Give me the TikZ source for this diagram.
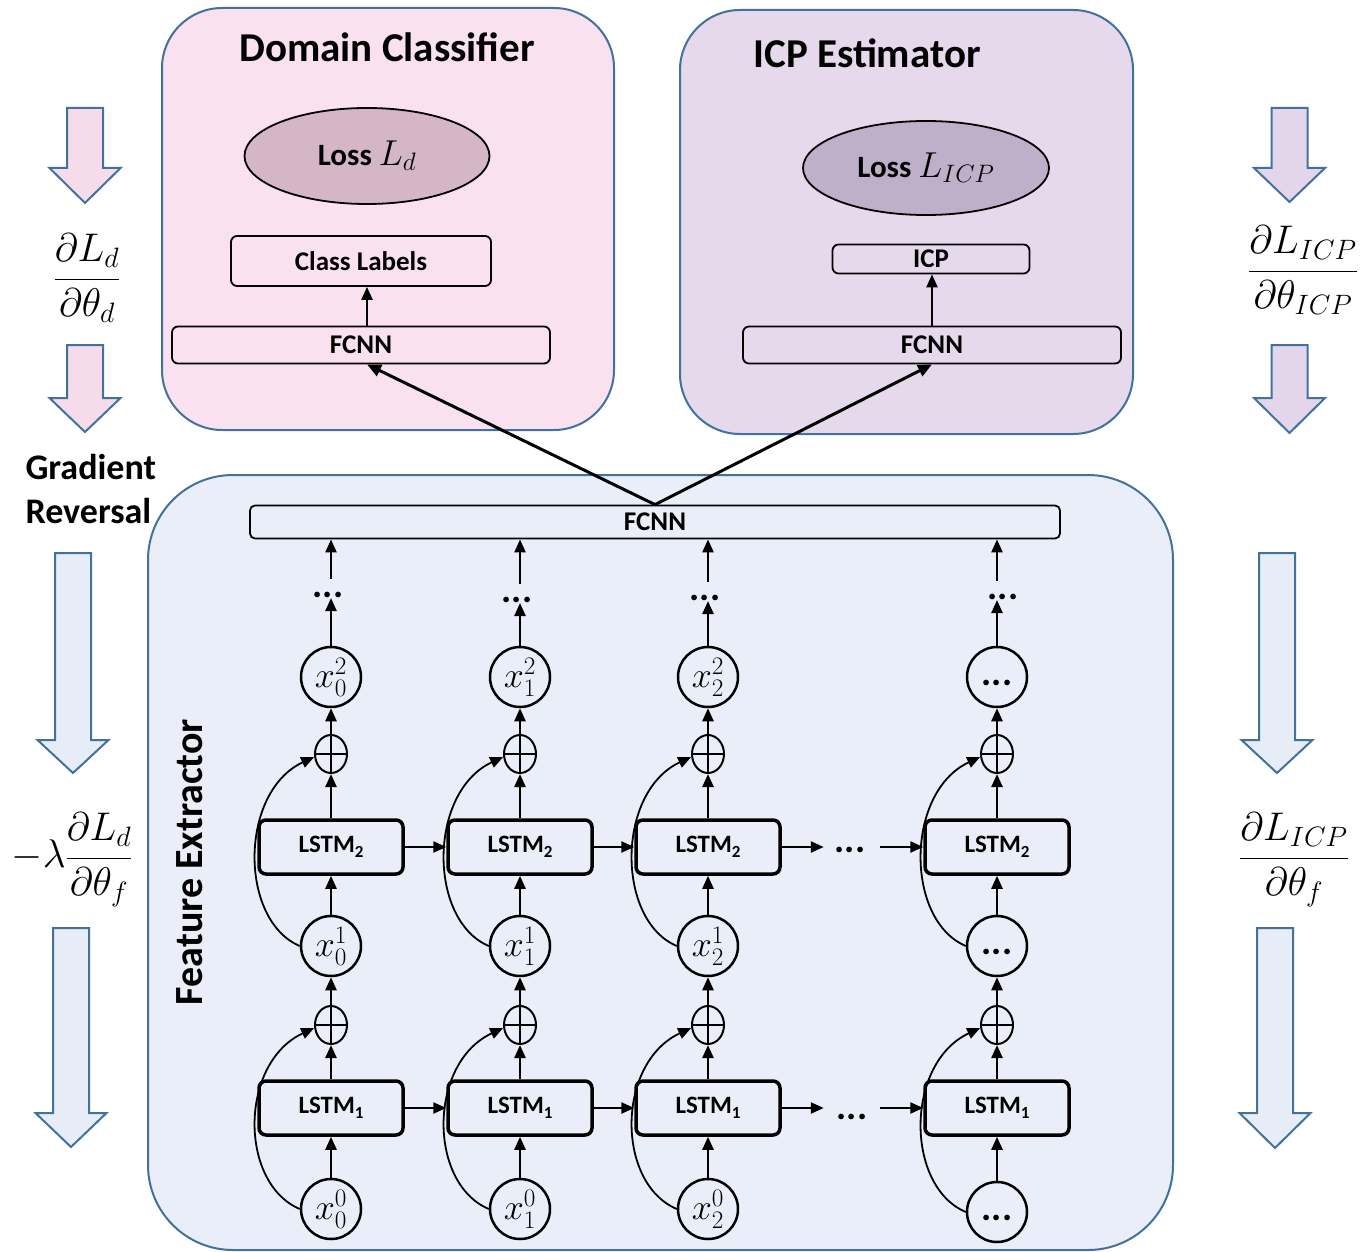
\documentclass[tikz,border=0pt]{standalone}
\usepackage{fix-cm}
\usepackage{fontspec}
\setmainfont{Carlito}
\usetikzlibrary{arrows.meta,shapes.geometric,calc}
\definecolor{bordc}{HTML}{41719C}
\definecolor{pinkc}{HTML}{F9E1EF}
\definecolor{lavc}{HTML}{E5D9EB}
\definecolor{bluec}{HTML}{E9EEF8}
\definecolor{ellpink}{HTML}{D4B6C6}
\definecolor{elllav}{HTML}{BEB0C8}
\definecolor{arrpink}{HTML}{F6DCEA}
\definecolor{arrlav}{HTML}{E3D6EA}
\definecolor{arrblue}{HTML}{E7EDF7}
\newcommand\blk[5]{%
  \draw[barrow, fill=#5] ({#1-18},#2) -- ({#1+18},#2) -- ({#1+18},#3) -- ({#1+35.5},#3) -- (#1,#4) -- ({#1-35.5},#3) -- ({#1-18},#3) -- cycle;}
\newcommand\lsub[1]{\raisebox{-5pt}{\fontsize{17}{20}\selectfont #1}}
\newcommand\circdots{\raisebox{-18pt}{\bfseries\fontsize{38}{40}\selectfont ...}}
\tikzset{
  grp/.style={draw=bordc, line width=2pt, inner sep=0pt},
  lstm/.style={draw, line width=3.5pt, rounded corners=7pt, minimum width=144pt, minimum height=54pt, inner sep=0pt, font=\fontsize{25}{30}\selectfont\bfseries},
  xc/.style={circle, draw, line width=2.5pt, minimum size=60pt, inner sep=0pt, font=\fontsize{36}{40}\selectfont},
  opl/.style={ellipse, draw, line width=2pt, minimum width=32pt, minimum height=38pt, inner sep=0pt,
    path picture={\draw[line width=2pt] (path picture bounding box.north) -- (path picture bounding box.south) (path picture bounding box.west) -- (path picture bounding box.east);}},
  arr/.style={-{Triangle[length=13pt,width=11pt]}, line width=2.4pt},
  thickarr/.style={-{Triangle[length=14pt,width=12pt]}, line width=3pt},
  thinbox/.style={draw, line width=1.8pt, rounded corners=6pt, inner sep=0pt, font=\fontsize{27}{32}\selectfont\bfseries},
  dots/.style={inner sep=0pt, font=\fontsize{38}{44}\selectfont\bfseries},
  barrow/.style={draw=bordc, line width=2pt, line join=miter},
  frac/.style={inner sep=0pt, font=\fontsize{40}{48}\selectfont},
  title/.style={font=\fontsize{41}{48}\selectfont\bfseries},
}
\begin{document}
\begin{tikzpicture}[x=1pt,y=-1pt]
\useasboundingbox (0,0) rectangle (1368,1252);

% group boxes
\node[grp, fill=pinkc, rounded corners=60pt, minimum width=452pt, minimum height=422pt] (dcbox) at (388,219) {};
\node[grp, fill=lavc, rounded corners=60pt, minimum width=453pt, minimum height=424pt] (icpbox) at (906.5,222) {};
\node[grp, fill=bluec, rounded corners=85pt, minimum width=1025pt, minimum height=775pt] (febox) at (660.5,862.5) {};

% titles
\node[title] (dct) at (387,47) {Domain Classifier};
\node[title] (icpt) at (867,53) {ICP Estimator};
\node[rotate=90, font=\fontsize{40}{48}\selectfont\bfseries] (fet) at (190,862) {Feature Extractor};

% domain classifier content
\node[ellipse, draw, line width=1.8pt, fill=ellpink, minimum width=245pt, minimum height=96pt, inner sep=0pt, font=\fontsize{31}{36}\selectfont\bfseries] (lossd) at (367,156) {Loss {\fontsize{36}{40}\selectfont$L_d$}};
\node[thinbox, minimum width=260pt, minimum height=50pt] (cl) at (361,261) {Class Labels};
\node[thinbox, minimum width=378pt, minimum height=37pt] (dfc) at (361,345) {FCNN};
\draw[arr] ($(dfc.north)+(6,0)$) -- ($(cl.south)+(6,0)$);

% ICP estimator content
\node[ellipse, draw, line width=1.8pt, fill=elllav, minimum width=246pt, minimum height=94pt, inner sep=0pt, font=\fontsize{31}{36}\selectfont\bfseries] (lossi) at (926,168) {Loss {\fontsize{36}{40}\selectfont$L_{ICP}$}};
\node[thinbox, minimum width=197pt, minimum height=29pt] (icp) at (931,259) {ICP};
\node[thinbox, minimum width=378pt, minimum height=37pt] (ifc) at (932,345) {FCNN};
\draw[arr] (ifc.north) -- (ifc.north |- icp.south);

% feature extractor FCNN
\node[thinbox, minimum width=810pt, minimum height=33pt, rounded corners=5pt] (bar) at (655,522) {FCNN};
\draw[thickarr] (bar.north) -- ($(dfc.south)+(6,0)$);
\draw[thickarr] (bar.north) -- (ifc.south);

% columns 0..2
\foreach \i/\cx/\dy in {0/331/595,1/520/600,2/708/598}{
  \node[xc] (a\i) at (\cx,1209) {$x_{\i}^{0}$};
  \node[lstm] (la\i) at (\cx,1108) {LSTM\lsub{1}};
  \node[opl] (oa\i) at (\cx,1025) {};
  \node[xc] (b\i) at (\cx,946) {$x_{\i}^{1}$};
  \node[lstm] (lb\i) at (\cx,847) {LSTM\lsub{2}};
  \node[opl] (ob\i) at (\cx,754) {};
  \node[xc] (c\i) at (\cx,677) {$x_{\i}^{2}$};
  \node[dots] (d\i) at (\cx-3,\dy) {...};
}
% column 3
\node[xc] (a3) at (997,1212) {\circdots};
\node[lstm] (la3) at (997,1108) {LSTM\lsub{1}};
\node[opl] (oa3) at (997,1025) {};
\node[xc] (b3) at (997,946) {\circdots};
\node[lstm] (lb3) at (997,847) {LSTM\lsub{2}};
\node[opl] (ob3) at (997,754) {};
\node[xc] (c3) at (997,677) {\circdots};
\node[dots] (d3) at (1003,597) {...};

\foreach \i in {0,1,2,3}{
  \draw[arr] (a\i.north) -- (la\i.south);
  \draw[arr] (la\i.north) -- (oa\i.south);
  \draw[arr] (oa\i.north) -- (b\i.south);
  \draw[arr] (b\i.north) -- (lb\i.south);
  \draw[arr] (lb\i.north) -- (ob\i.south);
  \draw[arr] (ob\i.north) -- (c\i.south);
  \draw[arr] (c\i.north) -- (c\i.north |- d\i.south);
  \draw[arr] ($(c\i.north |- d\i.north)+(0,-13)$) -- (c\i.north |- bar.south);
  \draw[arr, line width=1.8pt] (a\i.west) .. controls +(-61,-26) and +(-75,35) .. (oa\i.190);
  \draw[arr, line width=1.8pt] (b\i.west) .. controls +(-61,-26) and +(-75,35) .. (ob\i.190);
}

% horizontal recurrences
\draw[arr] (la0.east) -- (la1.west);
\draw[arr] (la1.east) -- (la2.west);
\draw[arr] (lb0.east) -- (lb1.west);
\draw[arr] (lb1.east) -- (lb2.west);
\node[dots] (ha) at (852,1117) {...};
\node[dots] (hb) at (850,850) {...};
\draw[arr] (la2.east) -- ($(la2.east)+(42,0)$);
\draw[arr] ($(la3.west)+(-43,0)$) -- (la3.west);
\draw[arr] (lb2.east) -- ($(lb2.east)+(42,0)$);
\draw[arr] ($(lb3.west)+(-43,0)$) -- (lb3.west);

% block arrows left
\blk{85}{108}{168}{203}{arrpink}
\blk{85}{345}{398}{432}{arrpink}
\blk{73}{553}{740}{773}{arrblue}
\blk{71}{928}{1113}{1147}{arrblue}
% block arrows right
\blk{1289.5}{108}{168}{202}{arrlav}
\blk{1289.5}{345}{398}{433}{arrlav}
\blk{1277}{553}{740}{773}{arrblue}
\blk{1275}{928}{1113}{1148}{arrblue}

% labels
\node[frac] (f1) at (87,278) {$\displaystyle\frac{\partial L_d}{\partial\theta_d}$};
\node[anchor=west, align=left, font=\fontsize{36}{44}\selectfont\bfseries] (gr) at (22,489) {Gradient\\Reversal};
\node[frac] (f2) at (72,860) {$\displaystyle-\lambda\frac{\partial L_d}{\partial\theta_f}$};
\node[frac] (f3) at (1303,270) {$\displaystyle\frac{\partial L_{ICP}}{\partial\theta_{ICP}}$};
\node[frac] (f4) at (1294,860) {$\displaystyle\frac{\partial L_{ICP}}{\partial\theta_f}$};
\end{tikzpicture}
\end{document}
